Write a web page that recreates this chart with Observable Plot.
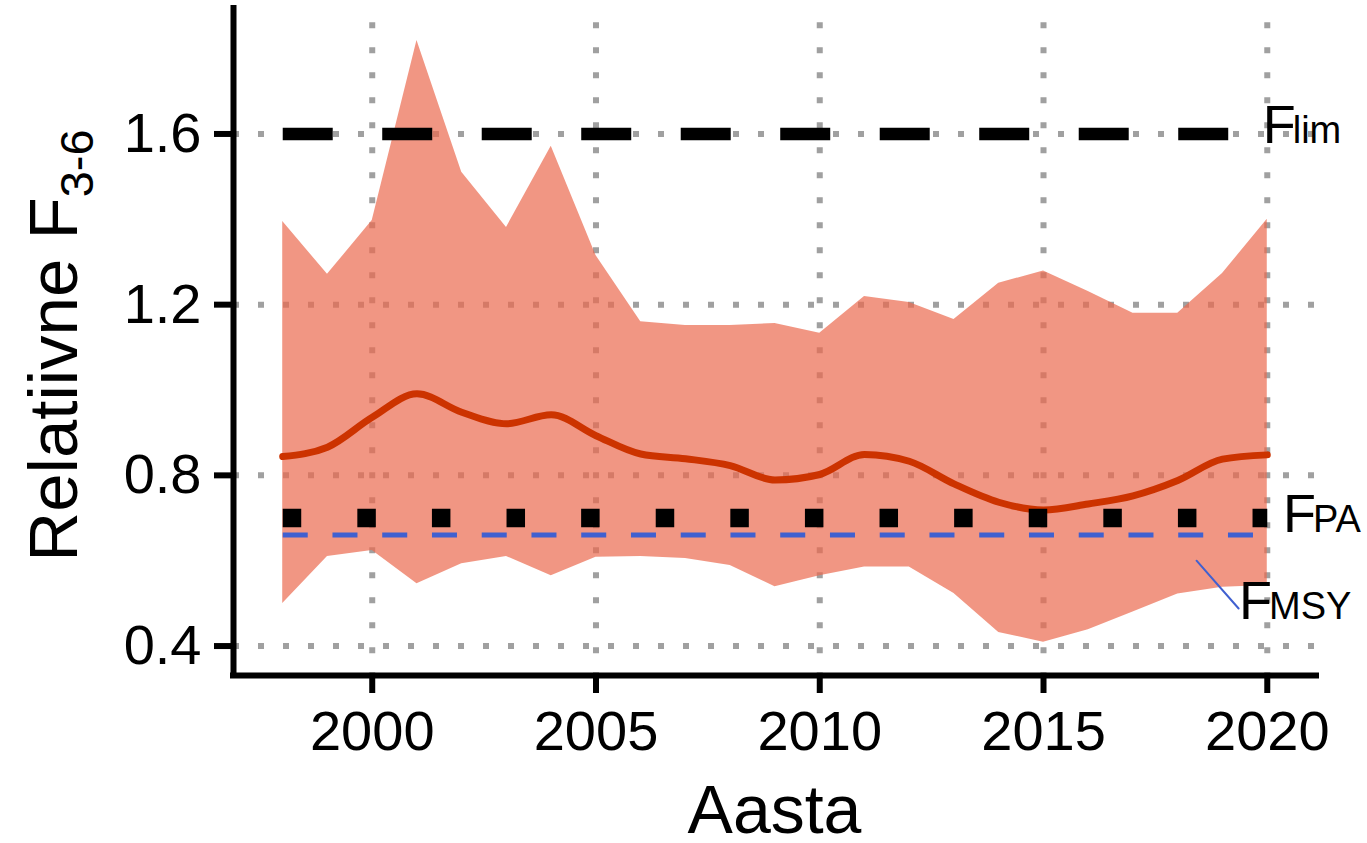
<!DOCTYPE html>
<html><head><meta charset="utf-8">
<script src="https://cdn.jsdelivr.net/npm/d3@7"></script>
<script src="https://cdn.jsdelivr.net/npm/@observablehq/plot@0.6"></script>
<style>html,body{margin:0;padding:0;background:#fff;} #chart svg{display:block}</style>
</head><body><div id="chart"></div>
<script>
// ---- data ----
const years = [1998,1999,2000,2001,2002,2003,2004,2005,2006,2007,2008,2009,2010,2011,2012,2013,2014,2015,2016,2017,2018,2019,2020];
const fRel  = [0.844,0.866,0.936,0.991,0.948,0.921,0.942,0.893,0.850,0.839,0.823,0.789,0.802,0.849,0.833,0.780,0.737,0.719,0.733,0.752,0.788,0.838,0.848];
const upper = [1.395,1.271,1.397,1.819,1.510,1.381,1.571,1.315,1.160,1.151,1.151,1.156,1.133,1.219,1.205,1.165,1.250,1.279,1.231,1.180,1.180,1.273,1.400];
const lower = [0.500,0.610,0.624,0.546,0.593,0.610,0.565,0.608,0.610,0.605,0.589,0.539,0.565,0.585,0.585,0.523,0.432,0.409,0.438,0.480,0.522,0.538,0.542];

const refNames  = ["lim","PA","MSY"];
const refValues = [1.6, 0.7, 0.66];
const labelX = [2019.91, 2020.36, 2019.38];
const labelY = [1.578, 0.666, 0.462];
const leaderX = [2018.42, 2019.36];
const leaderY = [0.600, 0.488];

const xTicks = [2000, 2005, 2010, 2015, 2020];
const yTicks = [0.4, 0.8, 1.2, 1.6];
const xTitle = "Aasta";
const yTitleMain = "Relatiivne F";
const yTitleSub = "3-6";

// ---- derived tables ----
const data = years.map((year, i) => ({year, f: fRel[i], lo: lower[i], hi: upper[i]}));
const refLine = v => [{x: years[0], y: v}, {x: years[years.length - 1], y: v}];
const leader = leaderX.map((x, i) => ({x, y: leaderY[i]}));

const xDomain = [1996.9, 2021.1];
const yDomain = [0.331, 1.894];
const grey = "#a0a0a0";
const blue = "#4060d0";
const font = "'Liberation Sans', Arial, sans-serif";

const plot = Plot.plot({
  width: 1367, height: 843,
  marginLeft: 233, marginRight: 51, marginTop: 8, marginBottom: 168,
  style: {fontFamily: font, background: "#fff", color: "#000"},
  x: {domain: xDomain},
  y: {domain: yDomain},
  marks: [
    Plot.ruleX(xTicks, {stroke: grey, strokeWidth: 6, strokeDasharray: "6,19", strokeDashoffset: 10.7}),
    Plot.ruleY(yTicks, {stroke: grey, strokeWidth: 6, strokeDasharray: "6,19"}),
    Plot.areaY(data, {x: "year", y1: "lo", y2: "hi", fill: "#eb694e", fillOpacity: 0.7}),
    Plot.line(data, {x: "year", y: "f", stroke: "#cc3300", strokeWidth: 7, curve: "monotone-x"}),
    Plot.line(refLine(refValues[0]), {x: "x", y: "y", stroke: "#000", strokeWidth: 12.5, strokeDasharray: "50,49.5", strokeLinecap: "butt"}),
    Plot.line(refLine(refValues[1]), {x: "x", y: "y", stroke: "#000", strokeWidth: 18.5, strokeDasharray: "18.5,56.1", strokeLinecap: "butt"}),
    Plot.line(refLine(refValues[2]), {x: "x", y: "y", stroke: blue, strokeWidth: 5, strokeDasharray: "25,24.75", strokeLinecap: "butt"}),
    Plot.line(leader, {x: "x", y: "y", stroke: blue, strokeWidth: 2}),
    Plot.axisX({ticks: xTicks, tickSize: 18, tickPadding: 17, tickFormat: d => String(d), fontSize: 56, strokeWidth: 6, label: null}),
    Plot.axisY({ticks: yTicks, tickSize: 19, tickPadding: 13, tickFormat: d3.format(".1f"), fontSize: 56, strokeWidth: 6, label: null}),
    Plot.ruleX([xDomain[0]], {stroke: "#000", strokeWidth: 6, strokeLinecap: "square"}),
    Plot.ruleY([yDomain[0]], {stroke: "#000", strokeWidth: 6, strokeLinecap: "square"})
  ]
});

const svg = d3.select(plot);
const sx = plot.scale("x"), sy = plot.scale("y");

// reference labels F with subscript
refNames.forEach((name, i) => {
  const t = svg.append("text")
    .attr("x", sx.apply(labelX[i])).attr("y", sy.apply(labelY[i]))
    .attr("text-anchor", "start")
    .attr("font-family", font).attr("fill", "#000");
  t.append("tspan").attr("font-size", 54).text("F");
  t.append("tspan").attr("font-size", 38).attr("dx", -3).text(name);
});

// x title
svg.append("text")
  .attr("x", (sx.apply(xDomain[0]) + sx.apply(xDomain[1])) / 2)
  .attr("y", 833)
  .attr("text-anchor", "middle").attr("font-family", font).attr("font-size", 68)
  .attr("fill", "#000").text(xTitle);

// y title
const yc = (sy.apply(yDomain[0]) + sy.apply(yDomain[1])) / 2;
const yt = svg.append("text")
  .attr("transform", `translate(77,${yc + 4}) rotate(-90)`)
  .attr("text-anchor", "middle").attr("font-family", font).attr("font-size", 69).attr("fill", "#000");
yt.append("tspan").text(yTitleMain);
yt.append("tspan").attr("font-size", 47).attr("dy", 16).text(yTitleSub);

document.getElementById("chart").appendChild(plot);
</script>
</body></html>
